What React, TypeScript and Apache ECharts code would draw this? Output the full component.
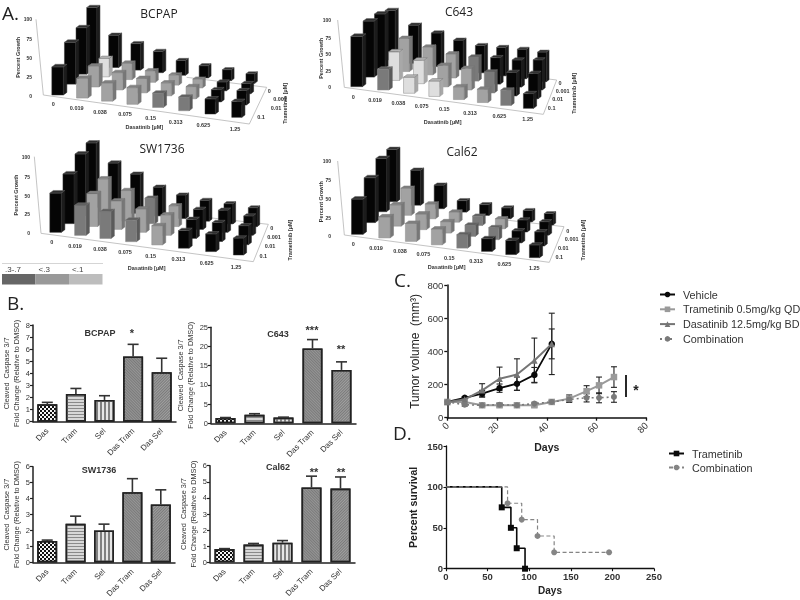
import React, { useEffect, useRef } from "react";
import * as echarts from "echarts";

const FONT = "'Liberation Sans', Arial, sans-serif";
const TITLE_FONT = "'Open Sans', 'Liberation Sans', sans-serif";

// ---- Panel A data: rows are trametinib 0, 0.001, 0.01, 0.1; columns dasatinib
const dasatinibLabels = ["0", "0.019", "0.038", "0.075", "0.15", "0.313", "0.625", "1.25"];
const trametinibLabels = ["0", "0.001", "0.01", "0.1"];
const bcpapGrowth = [
  [89, 50, 41, 33, 23, 19, 17, 15],
  [68, 27, 24, 17, 15, 13, 13, 15],
  [58, 29, 24, 20, 18, 17, 17, 20],
  [37, 26, 24, 22, 19, 18, 20, 21],
];
const bcpapClass = [
  [0, 0, 0, 0, 0, 0, 0, 0],
  [0, 3, 2, 2, 2, 2, 0, 0],
  [0, 2, 2, 2, 2, 2, 0, 0],
  [0, 2, 2, 2, 1, 1, 0, 0],
];
const c643Growth = [
  [87, 67, 59, 52, 48, 50, 52, 52],
  [90, 55, 46, 40, 40, 44, 45, 50],
  [88, 45, 37, 34, 34, 33, 37, 40],
  [75, 31, 24, 23, 19, 20, 23, 22],
];
const c643Class = [
  [0, 0, 0, 0, 0, 0, 0, 0],
  [0, 2, 2, 2, 1, 0, 0, 0],
  [0, 3, 3, 2, 2, 1, 0, 0],
  [0, 1, 3, 3, 2, 2, 1, 0],
];
const sw1736Growth = [
  [100, 73, 60, 44, 36, 32, 31, 29],
  [89, 57, 44, 37, 30, 29, 32, 28],
  [68, 45, 39, 32, 28, 26, 26, 26],
  [51, 39, 35, 28, 25, 23, 23, 22],
];
const sw1736Class = [
  [0, 0, 0, 0, 0, 0, 0, 0],
  [0, 2, 2, 1, 2, 0, 0, 0],
  [0, 2, 2, 2, 2, 0, 0, 0],
  [0, 1, 1, 1, 2, 0, 0, 0],
];
const cal62Growth = [
  [82, 55, 37, 18, 17, 17, 18, 18],
  [79, 40, 22, 15, 14, 15, 18, 20],
  [63, 30, 22, 16, 16, 17, 17, 20],
  [47, 28, 24, 21, 18, 17, 19, 17],
];
const cal62Class = [
  [0, 0, 0, 0, 0, 0, 0, 0],
  [0, 2, 2, 2, 1, 2, 0, 0],
  [0, 2, 2, 2, 1, 1, 0, 0],
  [0, 2, 2, 2, 1, 0, 0, 0],
];
const growthTicks = ["100", "75", "50", "25", "0"];

// ---- Panel B data
const caspaseCategories = ["Das", "Tram", "Sel", "Das Tram", "Das Sel"];
const bcpapCaspase = [1.45, 2.3, 1.8, 5.4, 4.1];
const bcpapCaspaseTop = [1.6, 2.75, 2.15, 6.4, 5.25];
const c643Caspase = [1.4, 2.2, 1.5, 19.5, 13.9];
const c643CaspaseTop = [1.5, 2.5, 1.6, 21.8, 16];
const sw1736Caspase = [1.35, 2.42, 2.0, 4.4, 3.63];
const sw1736CaspaseTop = [1.4, 2.9, 2.4, 5.25, 4.55];
const cal62Caspase = [0.82, 1.1, 1.22, 4.65, 4.58];
const cal62CaspaseTop = [0.85, 1.17, 1.35, 5.35, 5.3];

// ---- Panel C data
const vehicleDays = [0, 7, 14, 21, 28, 35, 42];
const vehicleVolume = [95, 120, 145, 178, 205, 258, 445];
const vehicleErr = [5, 8, 20, 25, 40, 45, 90];
const dasatinibVolume = [95, 110, 165, 235, 260, 345, 445];
const dasatinibErr = [5, 8, 40, 70, 95, 135, 185];
const longDays = [0, 7, 14, 21, 28, 35, 42, 49, 56, 61, 67];
const trametinibVolume = [95, 95, 75, 75, 75, 75, 95, 115, 160, 195, 245];
const trametinibErr = [8, 8, 10, 10, 10, 10, 10, 22, 33, 50, 62];
const combinationVolume = [95, 78, 75, 78, 75, 85, 95, 110, 120, 120, 125];
const combinationErr = [8, 8, 8, 8, 8, 8, 8, 15, 25, 30, 32];

// ---- Panel D data
const trametinibSurvivalDays = [0, 67, 78, 85, 95];
const trametinibSurvival = [100, 75, 50, 25, 0];
const combinationSurvivalDays = [0, 74, 91, 110, 130, 196];
const combinationSurvival = [100, 80, 60, 40, 20, 20];

const keyLabels = [".3-.7", "<.3", "<.1"];
const keyColors = ["#666666", "#999999", "#bdbdbd"];

type Pt = [number, number];

// Layout of a 3D panel, in tripled pixels
const panels3D = [
  {
    name: "BCPAP", growth: bcpapGrowth, cls: bcpapClass, off: [0, 0] as Pt, h: 76, title: [159, 13] as Pt,
    fl: [178, 285] as Pt, fr: [715, 352] as Pt, br: [755, 250] as Pt, bl: [280, 195] as Pt,
    wall: [[108, 58], [130, 285], [748, 372], [800, 262], [560, 232]] as Pt[],
    yTicks: [58, 117, 175, 232, 287], yRight: 96, pgX: 53, pgY: 172,
    das: [[160, 313], [230, 325], [300, 335], [375, 343], [452, 354], [527, 365], [610, 375], [705, 388]] as Pt[],
    dasName: [433, 380] as Pt,
    tram: [[808, 273], [840, 298], [828, 323], [783, 352]] as Pt[], tramName: [855, 310] as Pt,
  },
  {
    name: "C643", growth: c643Growth, cls: c643Class, off: [290, 0] as Pt, h: 67, title: [459, 11] as Pt,
    fl: [205, 260] as Pt, fr: [720, 325] as Pt, br: [760, 245] as Pt, bl: [305, 180] as Pt,
    wall: [[143, 60], [163, 262], [760, 343], [800, 240], [620, 218]] as Pt[],
    yTicks: [60, 113, 163, 213, 262], yRight: 123, pgX: 92, pgY: 175,
    das: [[190, 290], [255, 300], [325, 310], [395, 317], [463, 327], [540, 338], [628, 348], [713, 358]] as Pt[],
    dasName: [458, 367] as Pt,
    tram: [[810, 248], [818, 272], [803, 297], [785, 323]] as Pt[], tramName: [853, 280] as Pt,
  },
  {
    name: "SW1736", growth: sw1736Growth, cls: sw1736Class, off: [0, 145] as Pt, h: 77, title: [162, 148] as Pt,
    fl: [172, 262] as Pt, fr: [720, 330] as Pt, br: [762, 245] as Pt, bl: [278, 190] as Pt,
    wall: [[103, 35], [123, 265], [760, 350], [805, 238], [600, 215]] as Pt[],
    yTicks: [35, 95, 152, 208, 265], yRight: 90, pgX: 47, pgY: 150,
    das: [[155, 292], [225, 303], [300, 312], [375, 322], [452, 332], [535, 343], [620, 353], [708, 365]] as Pt[],
    dasName: [440, 369] as Pt,
    tram: [[815, 250], [822, 275], [810, 302], [790, 332]] as Pt[], tramName: [870, 285] as Pt,
  },
  {
    name: "Cal62", growth: cal62Growth, cls: cal62Class, off: [290, 145] as Pt, h: 75, title: [462, 151] as Pt,
    fl: [207, 268] as Pt, fr: [738, 338] as Pt, br: [780, 240] as Pt, bl: [310, 170] as Pt,
    wall: [[143, 48], [163, 270], [778, 352], [822, 245], [620, 222]] as Pt[],
    yTicks: [48, 105, 162, 218, 272], yRight: 123, pgX: 94, pgY: 170,
    das: [[190, 298], [258, 310], [330, 318], [400, 328], [478, 338], [558, 348], [643, 358], [733, 370]] as Pt[],
    dasName: [470, 365] as Pt,
    tram: [[833, 258], [845, 282], [820, 308], [808, 335]] as Pt[], tramName: [878, 285] as Pt,
  },
];

const bar3dFace = ["#050505", "#7a7a7a", "#a2a2a2", "#dedede"];
const bar3dSide = ["#1c1c1c", "#5a5a5a", "#777777", "#a8a8a8"];
const bar3dCap = ["#2e2e2e", "#606060", "#808080", "#b4b4b4"];

function homography(p0: Pt, p1: Pt, p2: Pt, p3: Pt) {
  const dx1 = p1[0] - p2[0], dx2 = p3[0] - p2[0], dx3 = p0[0] - p1[0] + p2[0] - p3[0];
  const dy1 = p1[1] - p2[1], dy2 = p3[1] - p2[1], dy3 = p0[1] - p1[1] + p2[1] - p3[1];
  const den = dx1 * dy2 - dx2 * dy1;
  const g = (dx3 * dy2 - dx2 * dy3) / den;
  const h = (dx1 * dy3 - dx3 * dy1) / den;
  const a = p1[0] - p0[0] + g * p1[0], b = p3[0] - p0[0] + h * p3[0], c = p0[0];
  const d = p1[1] - p0[1] + g * p1[1], e = p3[1] - p0[1] + h * p3[1], f = p0[1];
  return (u: number, v: number): Pt => {
    const w = g * u + h * v + 1;
    return [(a * u + b * v + c) / w, (d * u + e * v + f) / w];
  };
}

function text(x: number, y: number, t: string, o: any = {}) {
  return {
    type: "text", x, y, rotation: o.rotation || 0, silent: true, z: 5,
    style: {
      text: t, fontSize: o.size || 6, fontFamily: o.font || FONT, fontWeight: o.weight || "normal",
      fill: o.fill || "#333", align: o.align || "center", verticalAlign: "middle",
    },
  };
}

function buildOption() {
  const graphic: any[] = [];
  const grid: any[] = [];
  const xAxis: any[] = [];
  const yAxis: any[] = [];
  const series: any[] = [];

  // ---- Panel A
  panels3D.forEach((p) => {
    const ox = p.off[0], oy = p.off[1];
    const P = (q: Pt): Pt => [ox + q[0] / 3, oy + q[1] / 3];
    graphic.push({
      type: "polyline", silent: true, z: 0,
      shape: { points: p.wall.map(P) },
      style: { stroke: "#b5b5b5", lineWidth: 0.8, fill: "none" },
    });
    growthTicks.forEach((t, i) => {
      const q = P([p.yRight, p.yTicks[i]]);
      graphic.push(text(q[0], q[1], t, { size: 5, weight: "bold", align: "right" }));
    });
    const pg = P([p.pgX, p.pgY]);
    graphic.push(text(pg[0], pg[1], "Percent Growth", { size: 5.5, weight: "bold", rotation: Math.PI / 2 }));
    dasatinibLabels.forEach((t, i) => {
      const q = P(p.das[i]);
      graphic.push(text(q[0], q[1], t, { size: 5.5, weight: "bold" }));
    });
    const dn = P(p.dasName);
    graphic.push(text(dn[0], dn[1], "Dasatinib [µM]", { size: 5.5, weight: "bold" }));
    trametinibLabels.forEach((t, i) => {
      const q = P(p.tram[i]);
      graphic.push(text(q[0], q[1], t, { size: 5.5, weight: "bold" }));
    });
    const tn = P(p.tramName);
    graphic.push(text(tn[0], tn[1], "Trametinib [µM]", { size: 5.5, weight: "bold", rotation: Math.PI / 2 }));
    graphic.push(text(p.title[0], p.title[1], p.name, { size: 12, font: TITLE_FONT, fill: "#222" }));

    const gi = grid.length;
    grid.push({ left: ox + 20, top: oy + 5, width: 100, height: p.h });
    xAxis.push({ type: "value", gridIndex: gi, min: 0, max: 7, show: false });
    yAxis.push({ type: "value", gridIndex: gi, min: 0, max: 100, show: false });
    const map = homography(P(p.fl), P(p.fr), P(p.br), P(p.bl));
    const data: number[][] = [];
    p.growth.forEach((row, r) => row.forEach((v, c) => data.push([c, r, v, p.cls[r][c]])));
    series.push({
      type: "custom", xAxisIndex: gi, yAxisIndex: gi, clip: false, z: 2, data,
      renderItem: (_: any, api: any) => {
        const u = api.value(0) / 7;
        const vv = 1 - api.value(1) / 3;
        const k = api.value(3);
        const base = map(u, vv);
        const s = 1 - 0.12 * u - 0.12 * vv;
        const w = 11.5 * s, side = 3.5 * s, rise = 2.6 * s;
        const h = api.size([0, api.value(2)])[1] * (1 - 0.15 * vv);
        const x0 = base[0] - (w + side) / 2, x1 = x0 + w, y0 = base[1], y1 = y0 - h;
        const poly = (pts: number[][], fill: string, stroke: string) => ({
          type: "polygon", shape: { points: pts }, style: { fill, stroke, lineWidth: 0.5 },
        });
        return {
          type: "group",
          children: [
            poly([[x1, y0], [x1 + side, y0 - rise], [x1 + side, y1 - rise], [x1, y1]], bar3dSide[k], bar3dSide[k]),
            poly([[x0, y0], [x1, y0], [x1, y1], [x0, y1]], bar3dFace[k], k === 0 ? "#333" : "#8a8a8a"),
            poly([[x0, y1], [x1, y1], [x1 + side, y1 - rise], [x0 + side, y1 - rise]], bar3dCap[k], k === 0 ? "#666" : "#777"),
          ],
        };
      },
    });
  });

  // Colour key
  keyLabels.forEach((t, i) => {
    const x = 2 + i * 33.5;
    graphic.push({ type: "rect", silent: true, z: 1, shape: { x, y: 274, width: 33.5, height: 10.5 }, style: { fill: keyColors[i] } });
    graphic.push(text(x + 3, 269, t, { size: 8, align: "left", fill: "#444" }));
  });
  graphic.push({ type: "line", silent: true, z: 1, shape: { x1: 2, y1: 263.5, x2: 103, y2: 263.5 }, style: { stroke: "#d5d5d5", lineWidth: 1 } });

  // ---- Panel B
  const patterns = [
    { base: "#f4f4f4", decal: { color: "#111111", symbol: "rect", symbolSize: 1, dashArrayX: [[1.6, 1.6], [0, 1.6, 1.6, 0]], dashArrayY: [1.6, 0] } },
    { base: "#d8d8d8", decal: { color: "#8a8a8a", symbol: "rect", symbolSize: 1, dashArrayX: [1, 0], dashArrayY: [1, 1.2] } },
    { base: "#e6e6e6", decal: { color: "#808080", symbol: "rect", symbolSize: 1, dashArrayX: [1.2, 1.4], dashArrayY: [1, 0] } },
    { base: "#969696", decal: { color: "#7a7a7a", symbol: "rect", symbolSize: 1, dashArrayX: [1, 0], dashArrayY: [1, 1], rotation: Math.PI / 4 } },
    { base: "#a0a0a0", decal: { color: "#7a7a7a", symbol: "rect", symbolSize: 1, dashArrayX: [1, 0], dashArrayY: [1, 1], rotation: -Math.PI / 4 } },
  ];
  const caspasePanels = [
    { vals: bcpapCaspase, top: bcpapCaspaseTop, left: 31, y0: 421.7, y1: 325, max: 8, step: 1, width: 145 },
    { vals: c643Caspase, top: c643CaspaseTop, left: 211, y0: 423.3, y1: 327.3, max: 25, step: 5, width: 145 },
    { vals: sw1736Caspase, top: sw1736CaspaseTop, left: 31, y0: 563.3, y1: 466.7, max: 6, step: 1, width: 144 },
    { vals: cal62Caspase, top: cal62CaspaseTop, left: 210, y0: 562.3, y1: 465.7, max: 6, step: 1, width: 145 },
  ];
  caspasePanels.forEach((p) => {
    const gi = grid.length;
    grid.push({ left: p.left, top: p.y1, width: p.width, height: p.y0 - p.y1 });
    xAxis.push({
      type: "category", gridIndex: gi, data: caspaseCategories,
      axisLine: { lineStyle: { color: "#222", width: 1.5 } },
      axisTick: { alignWithLabel: true, length: 3, lineStyle: { color: "#222", width: 1.2 } },
      axisLabel: { rotate: 45, fontSize: 8, fontFamily: FONT, color: "#333", margin: 8, interval: 0 },
    });
    yAxis.push({
      type: "value", gridIndex: gi, min: 0, max: p.max, interval: p.step,
      name: "Cleaved  Caspase 3/7\nFold Change (Relative to DMSO)", nameLocation: "middle", nameRotate: 90, nameGap: 12,
      nameTextStyle: { fontSize: 7.3, fontFamily: FONT, color: "#333", lineHeight: 10 },
      splitLine: { show: false },
      axisLine: { show: true, lineStyle: { color: "#222", width: 1.5 } },
      axisTick: { show: true, length: 3, lineStyle: { color: "#222", width: 1.2 } },
      axisLabel: { fontSize: 7.5, fontFamily: FONT, color: "#333", margin: 3 },
    });
    series.push({
      type: "bar", xAxisIndex: gi, yAxisIndex: gi, barWidth: 20, z: 2,
      data: p.vals.map((v, i) => ({
        value: v,
        itemStyle: { color: patterns[i].base, borderColor: "#222", borderWidth: 1.6, decal: patterns[i].decal },
      })),
    });
    series.push({
      type: "custom", xAxisIndex: gi, yAxisIndex: gi, z: 3, clip: false,
      data: p.top.map((t, i) => [i, p.vals[i], t]),
      renderItem: (_: any, api: any) => {
        const a = api.coord([api.value(0), api.value(1)]);
        const b = api.coord([api.value(0), api.value(2)]);
        const st = { stroke: "#333", lineWidth: 1.6 };
        return {
          type: "group",
          children: [
            { type: "line", shape: { x1: a[0], y1: a[1], x2: b[0], y2: b[1] }, style: st },
            { type: "line", shape: { x1: b[0] - 5.5, y1: b[1], x2: b[0] + 5.5, y2: b[1] }, style: st },
          ],
        };
      },
    });
  });
  const subBold = { size: 9, weight: "bold", fill: "#333" };
  graphic.push(text(100, 333, "BCPAP", subBold), text(278, 334, "C643", subBold), text(99, 470, "SW1736", subBold), text(278, 467, "Cal62", subBold));
  const star = { size: 11, weight: "bold", fill: "#333" };
  graphic.push(
    text(132, 333, "*", star), text(312, 330, "***", star), text(341, 349, "**", star),
    text(314, 472, "**", star), text(341, 472, "**", star),
  );

  // ---- Panel C
  const cg = grid.length;
  grid.push({ left: 447.3, top: 285, width: 199, height: 132.7 });
  xAxis.push({
    type: "value", gridIndex: cg, min: 0, max: 80, interval: 20,
    name: "Days", nameLocation: "middle", nameGap: 24,
    nameTextStyle: { fontSize: 10.5, fontWeight: "bold", fontFamily: FONT, color: "#222" },
    splitLine: { show: false },
    axisLine: { lineStyle: { color: "#111", width: 1.5 } },
    axisTick: { length: 3, lineStyle: { color: "#111", width: 1.3 } },
    axisLabel: { rotate: 45, fontSize: 9.5, fontFamily: FONT, color: "#333", margin: 6 },
  });
  yAxis.push({
    type: "value", gridIndex: cg, min: 0, max: 800, interval: 200,
    name: "Tumor volume  (mm³)", nameLocation: "middle", nameRotate: 90, nameGap: 26,
    nameTextStyle: { fontSize: 12, fontFamily: FONT, color: "#222" },
    splitLine: { show: false },
    axisLine: { show: true, lineStyle: { color: "#111", width: 1.5 } },
    axisTick: { show: true, length: 3, lineStyle: { color: "#111", width: 1.3 } },
    axisLabel: { fontSize: 9.5, fontFamily: FONT, color: "#333", margin: 4 },
  });
  const lineSeries = (name: string, xs: number[], ys: number[], color: string, symbol: string, size: number, lineWidth: number, type: any, z: number) => ({
    type: "line", name, xAxisIndex: cg, yAxisIndex: cg, z,
    data: xs.map((x, i) => [x, ys[i]]), symbol, symbolSize: size,
    lineStyle: { color, width: lineWidth, type }, itemStyle: { color },
  });
  const errSeries = (xs: number[], ys: number[], es: number[]) => ({
    type: "custom", xAxisIndex: cg, yAxisIndex: cg, z: 4, clip: false,
    data: xs.map((x, i) => [x, ys[i] - es[i], ys[i] + es[i]]),
    renderItem: (_: any, api: any) => {
      const a = api.coord([api.value(0), api.value(1)]);
      const b = api.coord([api.value(0), api.value(2)]);
      const st = { stroke: "#222", lineWidth: 1.1 };
      return {
        type: "group",
        children: [
          { type: "line", shape: { x1: a[0], y1: a[1], x2: b[0], y2: b[1] }, style: st },
          { type: "line", shape: { x1: a[0] - 3, y1: a[1], x2: a[0] + 3, y2: a[1] }, style: st },
          { type: "line", shape: { x1: b[0] - 3, y1: b[1], x2: b[0] + 3, y2: b[1] }, style: st },
        ],
      };
    },
  });
  series.push(
    errSeries(vehicleDays, vehicleVolume, vehicleErr),
    errSeries(vehicleDays, dasatinibVolume, dasatinibErr),
    errSeries(longDays, trametinibVolume, trametinibErr),
    errSeries(longDays, combinationVolume, combinationErr),
    lineSeries("Vehicle", vehicleDays, vehicleVolume, "#0a0a0a", "circle", 6.5, 1.8, "solid", 5),
    lineSeries("Trametinib 0.5mg/kg QD", longDays, trametinibVolume, "#9a9a9a", "rect", 6.5, 2, "solid", 6),
    lineSeries("Dasatinib 12.5mg/kg BD", vehicleDays, dasatinibVolume, "#757575", "triangle", 6.5, 2, "solid", 7),
    lineSeries("Combination", longDays, combinationVolume, "#7a7a7a", "circle", 6, 1.6, [2, 3], 8),
  );
  graphic.push({ type: "line", silent: true, z: 5, shape: { x1: 626, y1: 375, x2: 626, y2: 397 }, style: { stroke: "#111", lineWidth: 1.8 } });
  graphic.push(text(636, 390, "*", { size: 14, weight: "bold", fill: "#222" }));

  // ---- Panel D
  const dg = grid.length;
  grid.push({ left: 446, top: 446, width: 208, height: 122.7 });
  xAxis.push({
    type: "value", gridIndex: dg, min: 0, max: 250, interval: 50,
    name: "Days", nameLocation: "middle", nameGap: 17,
    nameTextStyle: { fontSize: 10, fontWeight: "bold", fontFamily: FONT, color: "#222" },
    splitLine: { show: false },
    axisLine: { lineStyle: { color: "#111", width: 1.3 } },
    axisTick: { length: 2.5, lineStyle: { color: "#111", width: 1.1 } },
    axisLabel: { fontSize: 9.5, fontWeight: "bold", fontFamily: FONT, color: "#333", margin: 3 },
  });
  yAxis.push({
    type: "value", gridIndex: dg, min: 0, max: 150, interval: 50,
    name: "Percent survival", nameLocation: "middle", nameRotate: 90, nameGap: 28,
    nameTextStyle: { fontSize: 10.5, fontWeight: "bold", fontFamily: FONT, color: "#222" },
    splitLine: { show: false },
    axisLine: { show: true, lineStyle: { color: "#111", width: 1.3 } },
    axisTick: { show: true, length: 2.5, lineStyle: { color: "#111", width: 1.1 } },
    axisLabel: { fontSize: 9.5, fontWeight: "bold", fontFamily: FONT, color: "#333", margin: 3 },
  });
  const stepSeries = (name: string, xs: number[], ys: number[], color: string, symbol: string, width: number, type: any, z: number) => ({
    type: "line", name, xAxisIndex: dg, yAxisIndex: dg, z, step: "end", clip: false,
    symbol, symbolSize: 6,
    data: xs.map((x, i) => (i === 0 ? { value: [x, ys[i]], symbol: "none" } : { value: [x, ys[i]] })),
    lineStyle: { color, width, type }, itemStyle: { color },
  });
  series.push(
    stepSeries("Trametinib", trametinibSurvivalDays, trametinibSurvival, "#0a0a0a", "rect", 1.6, "solid", 3),
    stepSeries("Combination ", combinationSurvivalDays, combinationSurvival, "#858585", "circle", 1.2, [4, 2.5], 4),
  );

  // Panel letters
  const letter = { size: 19, font: TITLE_FONT, fill: "#222", align: "left" };
  graphic.push(text(2, 13, "A.", letter), text(7, 303, "B.", letter), text(394, 280, "C.", letter), text(393, 433, "D.", letter));

  const legendText = { fontSize: 10.8, fontFamily: FONT, color: "#333", padding: [0, 0, 0, 3] };
  return {
    animation: false,
    backgroundColor: "#ffffff",
    grid, xAxis, yAxis, series, graphic,
    legend: [
      {
        orient: "vertical", left: 654, top: 284, itemGap: 3.8, itemWidth: 15, itemHeight: 7, selectedMode: false, textStyle: legendText,
        data: ["Vehicle", "Trametinib 0.5mg/kg QD", "Dasatinib 12.5mg/kg BD", "Combination"],
      },
      {
        orient: "vertical", left: 663, top: 443, itemGap: 3, itemWidth: 15, itemHeight: 7, selectedMode: false, textStyle: legendText,
        data: ["Trametinib", "Combination "],
      },
    ],
  };
}

export default function App() {
  const ref = useRef<HTMLDivElement>(null);
  useEffect(() => {
    const chart = echarts.init(ref.current!, undefined, { renderer: "svg" });
    chart.setOption(buildOption() as any);
    return () => chart.dispose();
  }, []);
  return (
    <div
      ref={ref}
      style={{ position: "absolute", left: 0, top: 0, width: 800, height: 600, background: "#fff", filter: "blur(0.45px)" }}
    />
  );
}
